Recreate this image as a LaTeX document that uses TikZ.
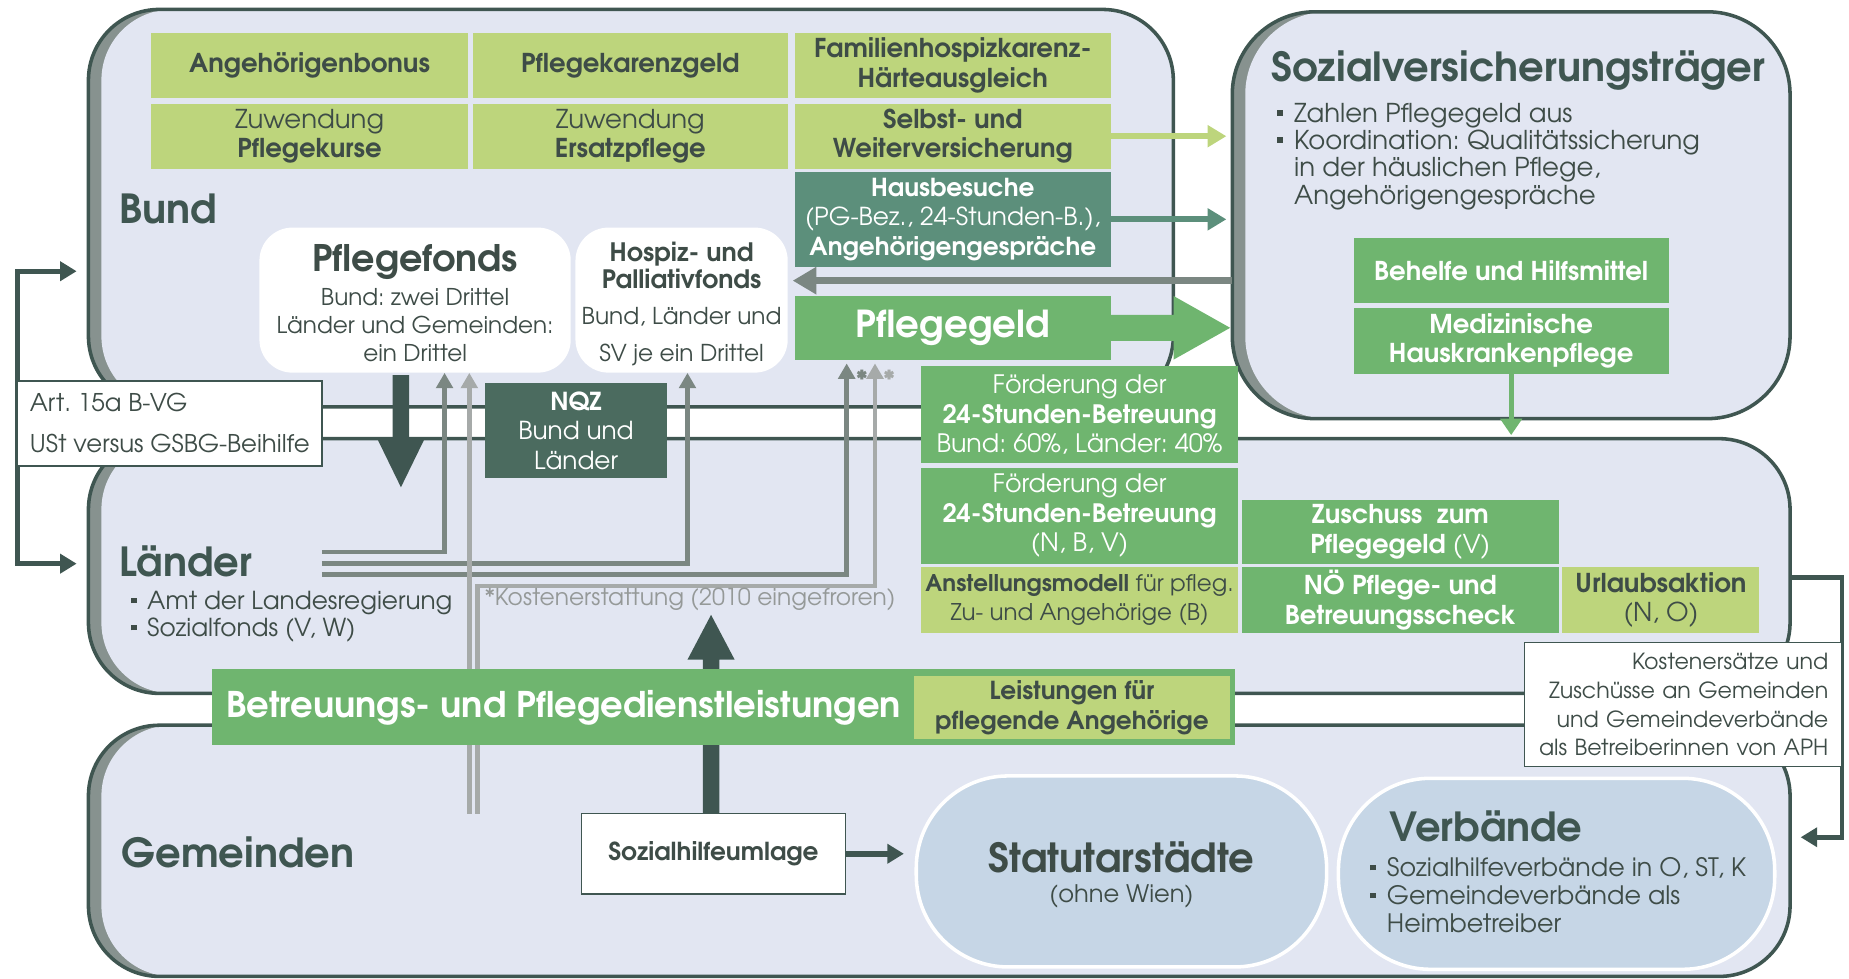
\documentclass[tikz,border=0pt]{standalone}
\usepackage{fontspec}
\setmainfont{texgyreadventor}[Extension=.otf, UprightFont=*-regular, BoldFont=*-bold, ItalicFont=*-italic, BoldItalicFont=*-bolditalic]
\usetikzlibrary{arrows.meta}
\definecolor{dk}{HTML}{3F5651}
\definecolor{tx}{HTML}{3E4C47}
\definecolor{lg}{HTML}{BDD57C}
\definecolor{mg}{HTML}{6FB56F}
\definecolor{tl}{HTML}{5C8F7B}
\definecolor{nq}{HTML}{4B6B5F}
\definecolor{boxc}{HTML}{E2E6F2}
\definecolor{bandc}{HTML}{87928F}
\definecolor{ga}{HTML}{7B8782}
\definecolor{gl}{HTML}{A6AAA9}
\definecolor{sb}{HTML}{C6D6E6}
\newcommand\fsz[2]{\fontsize{#1}{#2}\selectfont}
\newcommand\bul{\makebox[0.65em][l]{\rule[0.25em]{0.22em}{0.22em}}}
\newcommand\bigbox[5]{%
  \begin{scope}
    \clip[rounded corners=#5] (#1,#2) rectangle (#3,#4);
    \fill[bandc] (#1,#2) rectangle (#3,#4);
    \fill[boxc, rounded corners=#5] (#1+11,#2) rectangle (#3+11,#4);
  \end{scope}
  \draw[dk, line width=3, rounded corners=#5] (#1,#2) rectangle (#3,#4);
}
\tikzset{
  every node/.style={inner sep=0pt, text=tx},
  cell/.style={align=center, font=\fsz{22}{25}},
  lgc/.style={cell, fill=lg},
  mgc/.style={cell, fill=mg, text=white},
  tlc/.style={cell, fill=tl, text=white},
  nqc/.style={cell, fill=nq, text=white},
  wbox/.style={cell, fill=white, rounded corners=28},
  wrect/.style={fill=white, draw=dk, line width=1.2},
  sbox/.style={fill=sb, draw=white, line width=3, rounded corners=78},
  title/.style={font=\fsz{34}{38}\bfseries, text=dk},
  dkarrow/.style={dk, line width=4, -{Triangle[length=14pt,width=16pt]}},
  garrow/.style={ga, line width=4, -{Triangle[length=13pt,width=14pt]}},
  glarrow/.style={gl, line width=4, -{Triangle[length=13pt,width=14pt]}},
}
\begin{document}
\frenchspacing
\begin{tikzpicture}[x=1pt,y=-1pt]
\useasboundingbox (0,0) rectangle (1568,830);
% ---------- big boxes
\bigbox{75}{8}{995}{345}{60}
\bigbox{1045}{10}{1518}{355}{70}
\bigbox{75}{372}{1518}{588}{60}
\bigbox{75}{615}{1518}{828}{60}
\coordinate (SVL) at (1045,238);
\coordinate (LTOP) at (0,372);
\coordinate (bT) at (65,230);
\coordinate (lT) at (65,478);
\coordinate (gemR) at (1527,710);
\coordinate (laeR) at (1518,490);

% ---------- nodes in Bund
\node[lgc, minimum width=269, minimum height=55] (angb) at (262.5,55.5) {\bfseries Angehörigenbonus};
\node[lgc, minimum width=267, minimum height=55] (pkg) at (534.5,55.5) {\bfseries Pflegekarenzgeld};
\node[lgc, minimum width=268, minimum height=55] (fhk) at (808,55.5) {\bfseries Familienhospizkarenz-\\\bfseries Härteausgleich};
\node[lgc, minimum width=269, minimum height=55] (zpk) at (262.5,115.5) {Zuwendung\\\bfseries Pflegekurse};
\node[lgc, minimum width=267, minimum height=55] (zep) at (534.5,115.5) {Zuwendung\\\bfseries Ersatzpflege};
\node[lgc, minimum width=268, minimum height=55] (svw) at (808,115.5) {\bfseries Selbst- und\\\bfseries Weiterversicherung};
\node[tlc, minimum width=268, minimum height=80, font=\fsz{21}{25}] (hb) at (808,186) {\bfseries Hausbesuche\\(PG-Bez., 24-Stunden-B.),\\\bfseries Angehörigengespräche};
\node[mgc, minimum width=268, minimum height=54, font=\fsz{31.5}{34}\bfseries] (pg) at (808,278) {Pflegegeld};
\node[title, anchor=west] (bundl) at (101,177) {Bund};
\node[wbox, minimum width=264, minimum height=123] (pf) at (352,254.5) {};
\node[align=center, font=\fsz{19.6}{24}] (pft) at (352,257) {{\fsz{31}{33}\bfseries Pflegefonds}\\[5pt]Bund: zwei Drittel\\Länder und Gemeinden:\\ein Drittel};
\node[wbox, minimum width=180, minimum height=123] (hosp) at (578,254.5) {};
\node[align=center, font=\fsz{19.7}{23}] (hospt) at (578,257.5) {\fsz{21.5}{23}\bfseries Hospiz- und\\\fsz{21.5}{23}\bfseries Palliativfonds\\[8pt]Bund, Länder und\\[8pt]SV je ein Drittel};

% ---------- Sozialversicherungstraeger
\node[anchor=west, font=\fsz{34}{40}\bfseries, text=dk] (svt) at (1078,60) {Sozialversicherungsträger};
\node[anchor=north west, align=left, font=\fsz{22}{23.3}] (svb) at (1083,87) {\bul Zahlen Pflegegeld aus\\\bul Koordination: Qualitätssicherung\\\hspace*{0.65em}in der häuslichen Pflege,\\\hspace*{0.65em}Angehörigengespräche};
\node[mgc, minimum width=267, minimum height=55] (beh) at (1281.5,229.5) {\bfseries Behelfe und Hilfsmittel};
\node[mgc, minimum width=267, minimum height=56] (mhk) at (1281.5,289) {\bfseries Medizinische\\\bfseries Hauskrankenpflege};

% ---------- connectors behind cells
\draw[dk, line width=4, {Triangle[length=14pt,width=16pt]}-{Triangle[length=14pt,width=16pt]}] (bT) -| (15,359) |- (lT);
\draw[dk, line width=4, -{Triangle[length=14pt,width=16pt]}] (laeR) -- (1562,490) |- (gemR);
\draw[garrow] (273,468) -| ([xshift=25pt]pf.south);
\draw[garrow] (273,478) -| ([xshift=5pt]hosp.south);
\draw[garrow] (273,487) -| ([xshift=-90pt,yshift=-3pt]pg.south);
\draw[glarrow] (398,690) -- ([xshift=46pt]pf.south);
\draw[glarrow] (405,690) |- (742,497) -- ([xshift=-66pt,yshift=-3pt]pg.south);
\node[font=\fsz{20}{20}\bfseries, text=ga] (ast1) at (731,321) {*};
\node[font=\fsz{20}{20}\bfseries, text=gl] (ast2) at (754,321) {*};
\node[anchor=west, font=\fsz{19.8}{22}, text=gl!90!black] (kost0) at (411,508) {*Kostenerstattung (2010 eingefroren)};

% ---------- Art box, NQZ
\node[wrect, minimum width=258, minimum height=72, align=left, font=\fsz{20.7}{24}] (art) at (144,359) {Art. 15a B-VG\\[11pt]USt versus GSBG-Beihilfe};
\node[nqc, minimum width=155, minimum height=80, font=\fsz{21}{25}] (nqz) at (488.5,365) {\bfseries NQZ\\Bund und\\Länder};
% down arrow from Pflegefonds
\fill[dk, shift={([xshift=-12pt]pf.south)}] (-7,2) -- (-7,56) -- (-20,56) -- (0,97) -- (20,56) -- (7,56) -- (7,2) -- cycle;

% ---------- Laender
\node[title, anchor=west] (laenderl) at (101,476) {Länder};
\node[anchor=north west, align=left, font=\fsz{21}{23}] (lb) at (111,501) {\bul Amt der Landesregierung\\\bul Sozialfonds (V, W)};
\node[mgc, minimum width=269, minimum height=83, font=\fsz{21.5}{25}] (f1) at (915.5,351.5) {Förderung der\\\bfseries 24-Stunden-Betreuung\\Bund: 60\%, Länder: 40\%};
\node[mgc, minimum width=269, minimum height=81, font=\fsz{21.5}{25}] (f2) at (915.5,437.5) {Förderung der\\\bfseries 24-Stunden-Betreuung\\(N, B, V)};
\node[lgc, minimum width=269, minimum height=56, font=\fsz{19.5}{25}] (anst) at (915.5,509) {{\bfseries Anstellungsmodell} für pfleg.\\Zu- und Angehörige (B)};
\node[mgc, minimum width=269, minimum height=54] (zus) at (1187.5,451) {\bfseries Zuschuss~~zum\\{\bfseries Pflegegeld} (V)};
\node[mgc, minimum width=269, minimum height=56] (noe) at (1187.5,509) {\bfseries NÖ Pflege- und\\\bfseries Betreuungsscheck};
\node[lgc, minimum width=167, minimum height=56] (url) at (1408.5,509) {\bfseries Urlaubsaktion\\(N, O)};

% ---------- Gemeinden
\node[title, anchor=west] (geml) at (103,723) {Gemeinden};
\node[wrect, minimum width=224, minimum height=68, font=\fsz{21}{24}\bfseries] (shu) at (605,724) {Sozialhilfeumlage};
% up arrow from Sozialhilfeumlage
\fill[dk, shift={([xshift=-2pt]shu.north)}] (-7,0) -- (-7,-130) -- (-20,-130) -- (0,-168) -- (20,-130) -- (7,-130) -- (7,0) -- cycle;
\node[mgc, minimum width=867, minimum height=65] (bpd) at (613.5,599.5) {};
\node[font=\fsz{30}{32}\bfseries, text=white] (bpdt) at (478,600) {Betreuungs- und Pflegedienstleistungen};
\node[lgc, minimum width=268, minimum height=54, font=\fsz{21}{25}] (lfa) at (909,600) {\bfseries Leistungen für\\\bfseries pflegende Angehörige};
\node[wrect, minimum width=269, minimum height=105, text width=246, align=right, font=\fsz{18.8}{24.5}] (kost) at (1427.5,597.5) {Kostenersätze und\\Zuschüsse an Gemeinden\\und Gemeindeverbände\\als Betreiberinnen von APH};
\node[sbox, minimum width=348, minimum height=162] (stat) at (951,739) {};
\node[align=center, font=\fsz{20.5}{24}] (statt) at (951,742) {{\fsz{34}{38}\bfseries Statutarstädte}\\[2pt](ohne Wien)};
\node[sbox, minimum width=370, minimum height=162] (verb) at (1320,741) {};
\node[anchor=west, font=\fsz{34}{40}\bfseries, text=dk] (verbt) at (1178,701) {Verbände};
\node[anchor=north west, align=left, font=\fsz{21.5}{23.7}] (verbb) at (1162,727) {\bul Sozialhilfeverbände in O, ST, K\\\bul Gemeindeverbände als\\\hspace*{0.65em}Heimbetreiber};
\draw[dkarrow, line width=5, shorten >=9pt] (shu.east) -- (shu.east -| stat.west);

% ---------- arrows on top
\draw[lg, line width=5, shorten >=5pt, -{Triangle[length=16pt,width=18pt]}] (svw.east) -- (svw.east -| SVL);
\draw[tl, line width=5, shorten >=5pt, -{Triangle[length=16pt,width=18pt]}] (hb.east) -- (hb.east -| SVL);
\draw[ga, line width=6, shorten >=4pt, -{Triangle[length=20pt,width=22pt]}] (SVL) -- (hosp.east |- SVL);
\fill[mg, shift={(pg.east)}] (0,-11) -- (53,-11) -- (53,-27) -- (101,0) -- (53,27) -- (53,11) -- (0,11) -- cycle;
\draw[mg, line width=4, shorten >=3pt, -{Triangle[length=14pt,width=18pt]}] (mhk.south) -- (mhk.south |- LTOP);
\end{tikzpicture}
\end{document}
